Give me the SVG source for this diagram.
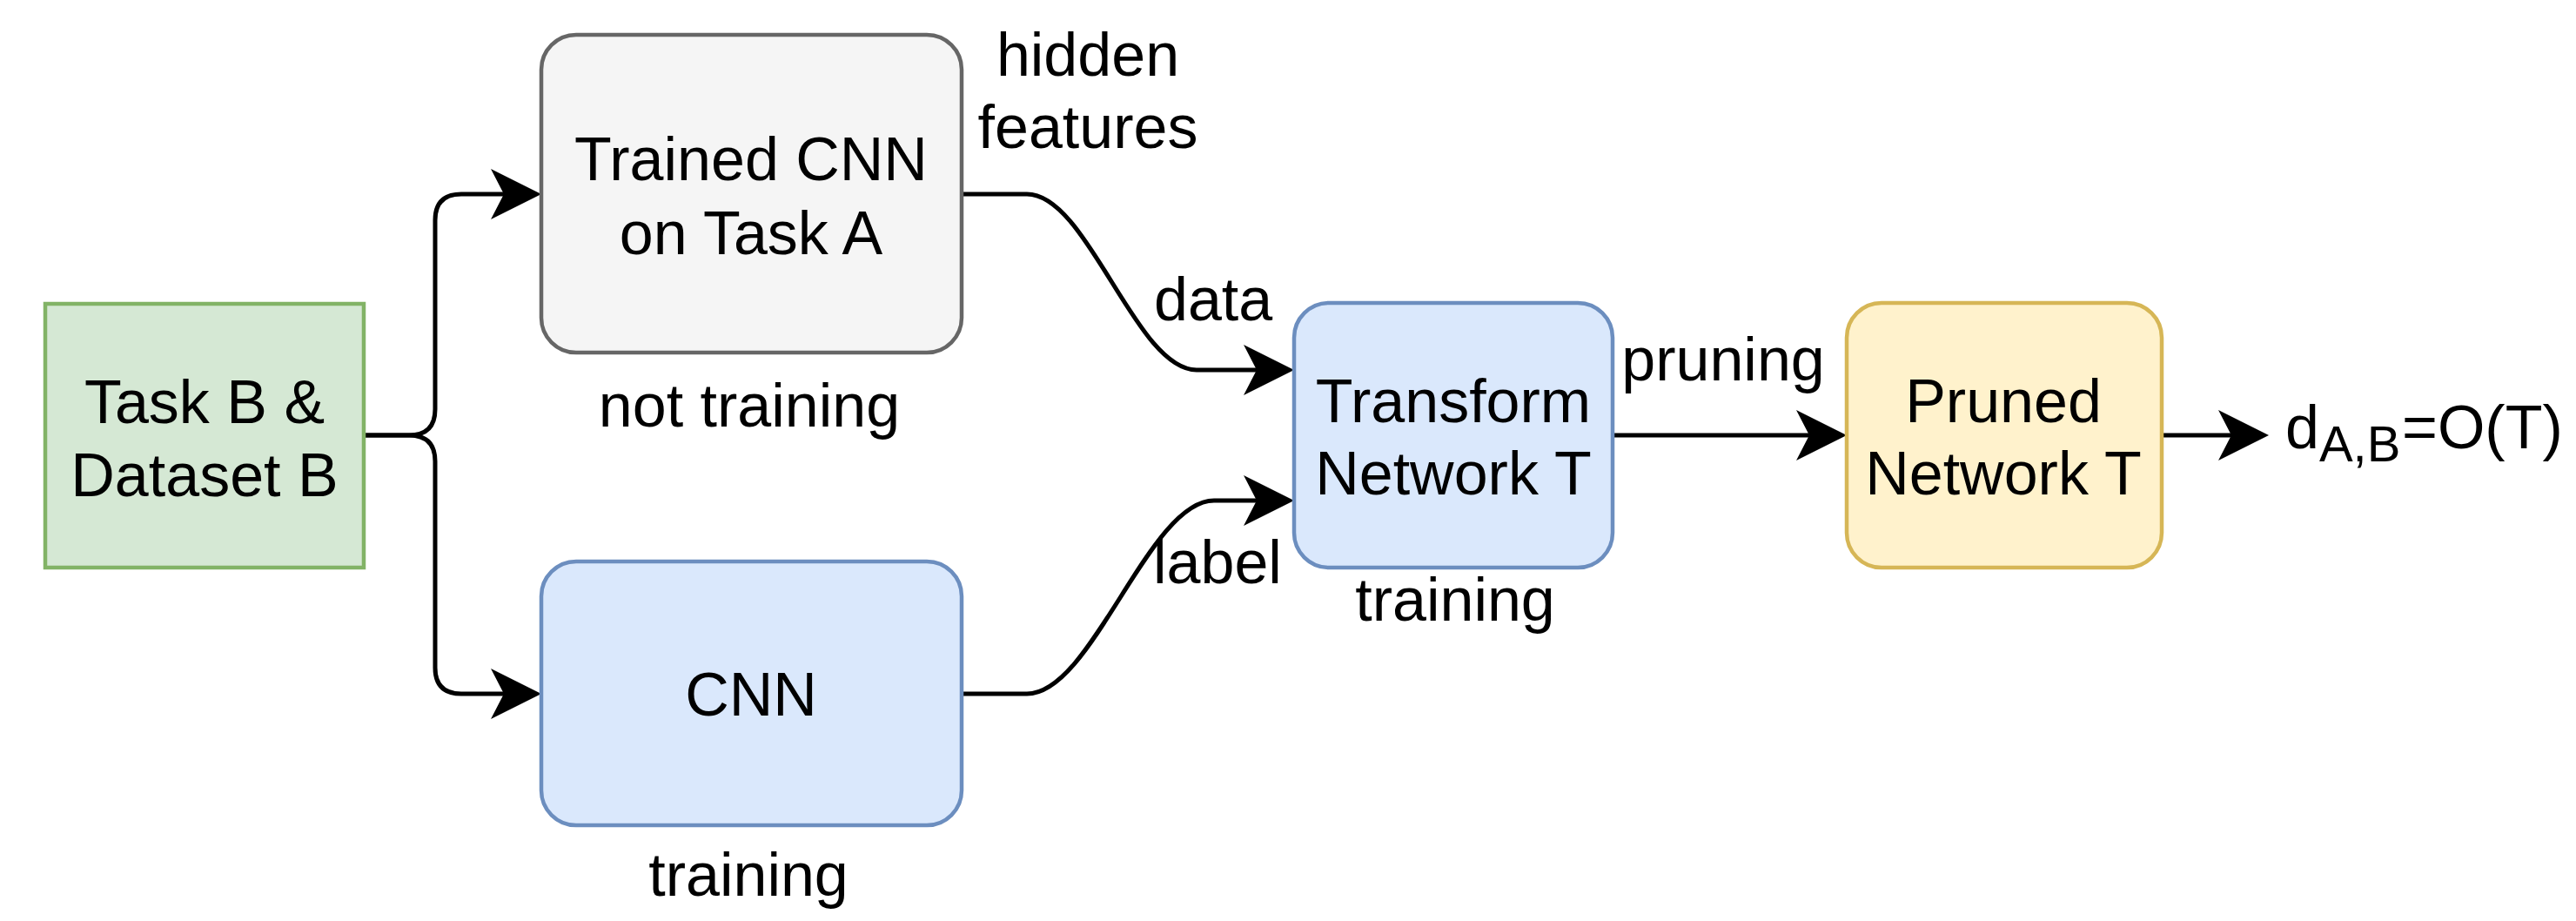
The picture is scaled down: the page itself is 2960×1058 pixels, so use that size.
<svg xmlns="http://www.w3.org/2000/svg" width="2960" height="1058" viewBox="0 0 2960 1058">
<style>
text{font-family:"Liberation Sans",Arial,sans-serif;font-size:70px;fill:#000}
.c{text-anchor:middle}
.edge{fill:none;stroke:#000;stroke-width:5}
.box{stroke-width:4.5}
</style>
<defs>
<marker id="arr" markerUnits="userSpaceOnUse" viewBox="-52 -32 66 64" refX="0" refY="0" markerWidth="66" markerHeight="64" orient="auto">
<path d="M10,0 L-48,-29 L-33,0 L-48,29 Z" fill="#000"/>
</marker>
</defs>
<rect width="2960" height="1058" fill="#fff"/>
<g id="connectors">
<path class="edge" d="M418,500 H470 Q500,500 500,470 V253 Q500,223 530,223 H612" marker-end="url(#arr)"/>
<path class="edge" d="M418,500 H470 Q500,500 500,530 V767 Q500,797 530,797 H612" marker-end="url(#arr)"/>
<path class="edge" d="M1105,223 H1180 C1250,223 1305,425 1375,425 H1477" marker-end="url(#arr)"/>
<path class="edge" d="M1105,797 H1180 C1255,797 1320,575 1395,575 H1477" marker-end="url(#arr)"/>
<path class="edge" d="M1853,500 H2112" marker-end="url(#arr)"/>
<path class="edge" d="M2484,500 H2597" marker-end="url(#arr)"/>
</g>
<g id="taskB">
<rect class="box" x="52" y="349" width="366" height="303" fill="#d5e8d4" stroke="#82b366"/>
<text class="c" x="235" y="486">Task B &amp;</text>
<text class="c" x="235" y="570">Dataset B</text>
</g>
<g id="trainedCNN">
<rect class="box" x="622" y="40" width="483" height="365" rx="40" fill="#f5f5f5" stroke="#666666"/>
<text class="c" x="863" y="207">Trained CNN</text>
<text class="c" x="863" y="292">on Task A</text>
</g>
<g id="cnn">
<rect class="box" x="622" y="645" width="483" height="303" rx="40" fill="#dae8fc" stroke="#6c8ebf"/>
<text class="c" x="863" y="822">CNN</text>
</g>
<g id="transform">
<rect class="box" x="1487" y="348" width="366" height="304" rx="40" fill="#dae8fc" stroke="#6c8ebf"/>
<text class="c" x="1670" y="485">Transform</text>
<text class="c" x="1670" y="568">Network T</text>
</g>
<g id="pruned">
<rect class="box" x="2122" y="348" width="362" height="304" rx="40" fill="#fff2cc" stroke="#d6b656"/>
<text class="c" x="2302" y="485">Pruned</text>
<text class="c" x="2302" y="568">Network T</text>
</g>
<g id="labels">
<text class="c" x="1250" y="87">hidden</text>
<text class="c" x="1250" y="170">features</text>
<text class="c" x="861" y="490">not training</text>
<text class="c" x="860" y="1029">training</text>
<text x="1326" y="368">data</text>
<text x="1325" y="670">label</text>
<text class="c" x="1980" y="437">pruning</text>
<text class="c" x="1672" y="713">training</text>
<text x="2626" y="515">d<tspan dy="15" font-size="58">A,B</tspan><tspan x="2760" dy="-15">=O(T)</tspan></text>
</g>
</svg>
